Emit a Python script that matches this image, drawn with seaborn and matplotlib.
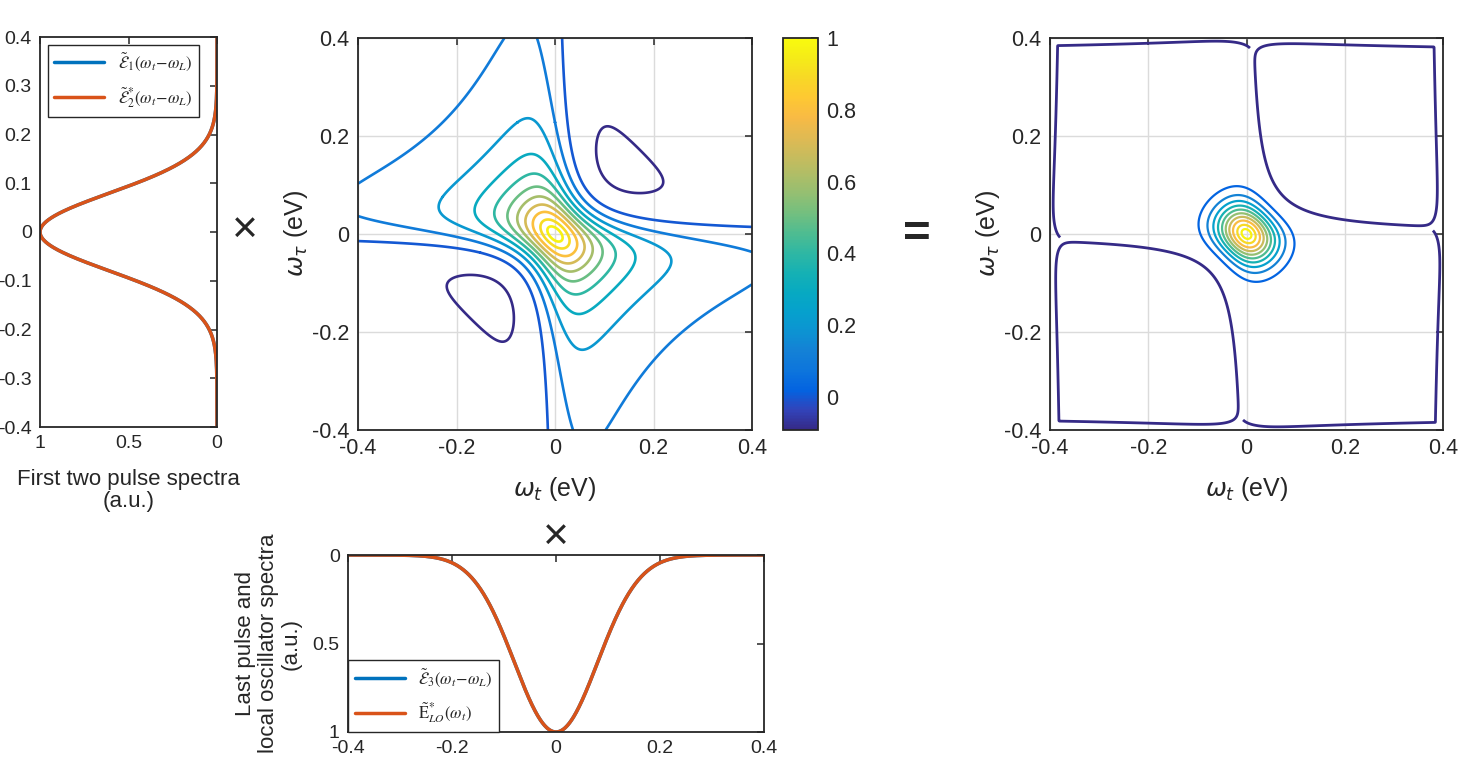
import numpy as np
import matplotlib
matplotlib.use("Agg")
import matplotlib.pyplot as plt
import seaborn as sns
from matplotlib.colors import LinearSegmentedColormap, Normalize
from matplotlib.cm import ScalarMappable
from matplotlib.font_manager import FontProperties
from matplotlib.ticker import FuncFormatter

# values
gamma = 0.076          # linewidth of the ideal response (eV)
pulse_sigma = 0.08     # spectral width of each pulse (eV)
omega_lim = [-0.4, 0.4]
omega_ticks = [-0.4, -0.2, 0, 0.2, 0.4]
left_yticks = [-0.4, -0.3, -0.2, -0.1, 0, 0.1, 0.2, 0.3, 0.4]
left_xticks = [1, 0.5, 0]
bottom_yticks = [0, 0.5, 1]
cbar_ticks = [0, 0.2, 0.4, 0.6, 0.8, 1]
cbar_min = -0.092
ideal_levels = [-0.11, 0.0, 0.1, 0.2, 0.3, 0.4, 0.5, 0.6, 0.7, 0.8, 0.9, 0.97]
meas_levels = [0.1, 0.2, 0.3, 0.4, 0.5, 0.6, 0.7, 0.8, 0.9, 0.97]
noise_neg = -4.5e-12   # numerical noise floor contours of the measured map
noise_pos = 3.5e-12

legend_left = [r'$\tilde{\mathcal{E}}_1(\omega_t\!-\!\omega_L)$',
               r'$\tilde{\mathcal{E}}^{*}_2(\omega_t\!-\!\omega_L)$']
legend_bottom = [r'$\tilde{\mathcal{E}}_3(\omega_t\!-\!\omega_L)$',
                 r'$\tilde{\mathrm{E}}^{*}_{LO}(\omega_t)$']

# parula-like colormap
parula_pts = [
    (0.2081, 0.1663, 0.5292), (0.1959, 0.2645, 0.7279), (0.0117, 0.3875, 0.8820),
    (0.0498, 0.4586, 0.8641), (0.0779, 0.5040, 0.8384), (0.0488, 0.5772, 0.8228),
    (0.0239, 0.6287, 0.8038), (0.0267, 0.6642, 0.7607), (0.0843, 0.6928, 0.7062),
    (0.1801, 0.7177, 0.6424), (0.3022, 0.7376, 0.5712), (0.4420, 0.7481, 0.5033),
    (0.5709, 0.7485, 0.4494), (0.6834, 0.7435, 0.4044), (0.7858, 0.7356, 0.3633),
    (0.8824, 0.7274, 0.3217), (0.9739, 0.7314, 0.2666), (0.9955, 0.7861, 0.1967),
    (0.9697, 0.8481, 0.1475), (0.9598, 0.9218, 0.0948), (0.9763, 0.9831, 0.0538)]
parula = LinearSegmentedColormap.from_list("parula", parula_pts)

mblue = (0.0, 0.447, 0.741)
morange = (0.85, 0.325, 0.098)
axcol = (0.15, 0.15, 0.15)

sns.set_style("white")
plt.rcParams['font.family'] = ['Liberation Sans', 'DejaVu Sans']

w = np.linspace(omega_lim[0], omega_lim[1], 801)
wt, wtau = np.meshgrid(w, w)
lor = lambda x: gamma / (gamma - 1j * x)
ideal = np.real(lor(wt) * lor(wtau))
spec = np.exp(-w**2 / (2 * pulse_sigma**2))   # one pulse spectrum
pair = spec * spec                              # E1*E2^ or E3*E_LO^
meas = ideal * pair[:, None] * pair[None, :]
meas = meas / meas.max()
# where the product falls to the noise floor of the calculation
floor_map = ideal * np.minimum(pair[:, None], pair[None, :])
floor_pos = np.where(ideal > 0.02, floor_map, np.nan)

W, H = 1469, 768
fig = plt.figure(figsize=(W / 100, H / 100), dpi=100)


def box(x0, y0, x1, y1):
    return [x0 / W, 1 - y1 / H, (x1 - x0) / W, (y1 - y0) / H]


fmt = FuncFormatter(lambda v, p: '%g' % round(v, 3))


def style(ax, size, grid=False):
    ax.tick_params(direction='in', length=5, width=1.1, top=True, right=True,
                   labelsize=size, colors=axcol, pad=6)
    for s in ax.spines.values():
        s.set_linewidth(1.3)
        s.set_color(axcol)
    ax.xaxis.set_major_formatter(fmt)
    ax.yaxis.set_major_formatter(fmt)
    if grid:
        ax.grid(True, color=(0.86, 0.86, 0.86), lw=1.0)
        ax.set_axisbelow(True)


leg_font = FontProperties(size=12, math_fontfamily='stix')

# left: first two pulse spectra
ax1 = fig.add_axes(box(40, 37, 217, 427))
sns.lineplot(x=spec, y=w, orient="y", ax=ax1, color=mblue, lw=2.5, label=legend_left[0])
sns.lineplot(x=spec, y=w, orient="y", ax=ax1, color=morange, lw=2.5, label=legend_left[1])
ax1.set_xlim(1, 0)
ax1.set_ylim(omega_lim)
ax1.set_xticks(left_xticks)
ax1.set_yticks(left_yticks)
style(ax1, 14)
ax1.set_xlabel('First two pulse spectra\n(a.u.)', fontsize=16, color=axcol,
               linespacing=1.05, labelpad=12)
ax1.set_ylabel('')
ax1.legend(loc='upper left', prop=leg_font, handlelength=3.0, labelspacing=0.7,
           fancybox=False, edgecolor=axcol, framealpha=1, borderaxespad=0.45)

# middle: ideal 2D spectrum
ax2 = fig.add_axes(box(358, 38, 752, 430))
norm2 = Normalize(vmin=cbar_min, vmax=1)
ax2.contour(w, w, ideal, levels=ideal_levels, cmap=parula, norm=norm2, linewidths=1.9)
ax2.set_xlim(omega_lim)
ax2.set_ylim(omega_lim)
ax2.set_xticks(omega_ticks)
ax2.set_yticks(omega_ticks)
style(ax2, 15.5, grid=True)
ax2.set_xlabel(r'$\omega_t$ (eV)', fontsize=18, color=axcol, labelpad=11)
ax2.set_ylabel(r'$\omega_\tau$ (eV)', fontsize=18, color=axcol, labelpad=2)

cax = fig.add_axes(box(783, 38, 818, 430))
cb = fig.colorbar(ScalarMappable(norm=norm2, cmap=parula), cax=cax, ticks=cbar_ticks)
cb.ax.tick_params(direction='in', length=5, width=1.1, labelsize=15.5, colors=axcol, pad=6)
cb.ax.yaxis.set_major_formatter(fmt)
cb.outline.set_linewidth(1.3)
cb.outline.set_edgecolor(axcol)

# right: measured 2D spectrum
ax3 = fig.add_axes(box(1050, 38, 1443, 430))
norm3 = Normalize(vmin=meas.min(), vmax=1)
noise_col = [parula(0.0)]
ax3.contour(w, w, floor_map, levels=[noise_neg], colors=noise_col,
            linewidths=2.0, linestyles='solid')
ax3.contour(w, w, floor_pos, levels=[noise_pos], colors=noise_col,
            linewidths=2.0, linestyles='solid')
ax3.contour(w, w, meas, levels=meas_levels, cmap=parula, norm=norm3, linewidths=1.6)
ax3.set_xlim(omega_lim)
ax3.set_ylim(omega_lim)
ax3.set_xticks(omega_ticks)
ax3.set_yticks(omega_ticks)
style(ax3, 15.5, grid=True)
ax3.set_xlabel(r'$\omega_t$ (eV)', fontsize=18, color=axcol, labelpad=11)
ax3.set_ylabel(r'$\omega_\tau$ (eV)', fontsize=18, color=axcol, labelpad=2)

# bottom: last pulse and LO spectra
ax4 = fig.add_axes(box(348, 555, 764, 732))
sns.lineplot(x=w, y=spec, ax=ax4, color=mblue, lw=2.5, label=legend_bottom[0])
sns.lineplot(x=w, y=spec, ax=ax4, color=morange, lw=2.5, label=legend_bottom[1])
ax4.set_xlim(omega_lim)
ax4.set_ylim(1, 0)
ax4.set_xticks(omega_ticks)
ax4.set_yticks(bottom_yticks)
style(ax4, 14)
ax4.set_xlabel('')
ax4.set_ylabel('Last pulse and\nlocal oscillator spectra\n(a.u.)', fontsize=16, color=axcol,
               linespacing=1.1, labelpad=8)
ax4.legend(loc='lower left', prop=leg_font, handlelength=3.0, labelspacing=0.7,
           fancybox=False, edgecolor=axcol, framealpha=1, borderaxespad=0.0)

fig.text(245 / W, 1 - 230 / H, '\u00d7', fontsize=32, ha='center', va='center')
fig.text(556 / W, 1 - 537 / H, '\u00d7', fontsize=32, ha='center', va='center')
fig.text(917 / W, 1 - 235 / H, '=', fontsize=34, fontweight='bold', ha='center', va='center')

fig.savefig('out.png', dpi=100)
